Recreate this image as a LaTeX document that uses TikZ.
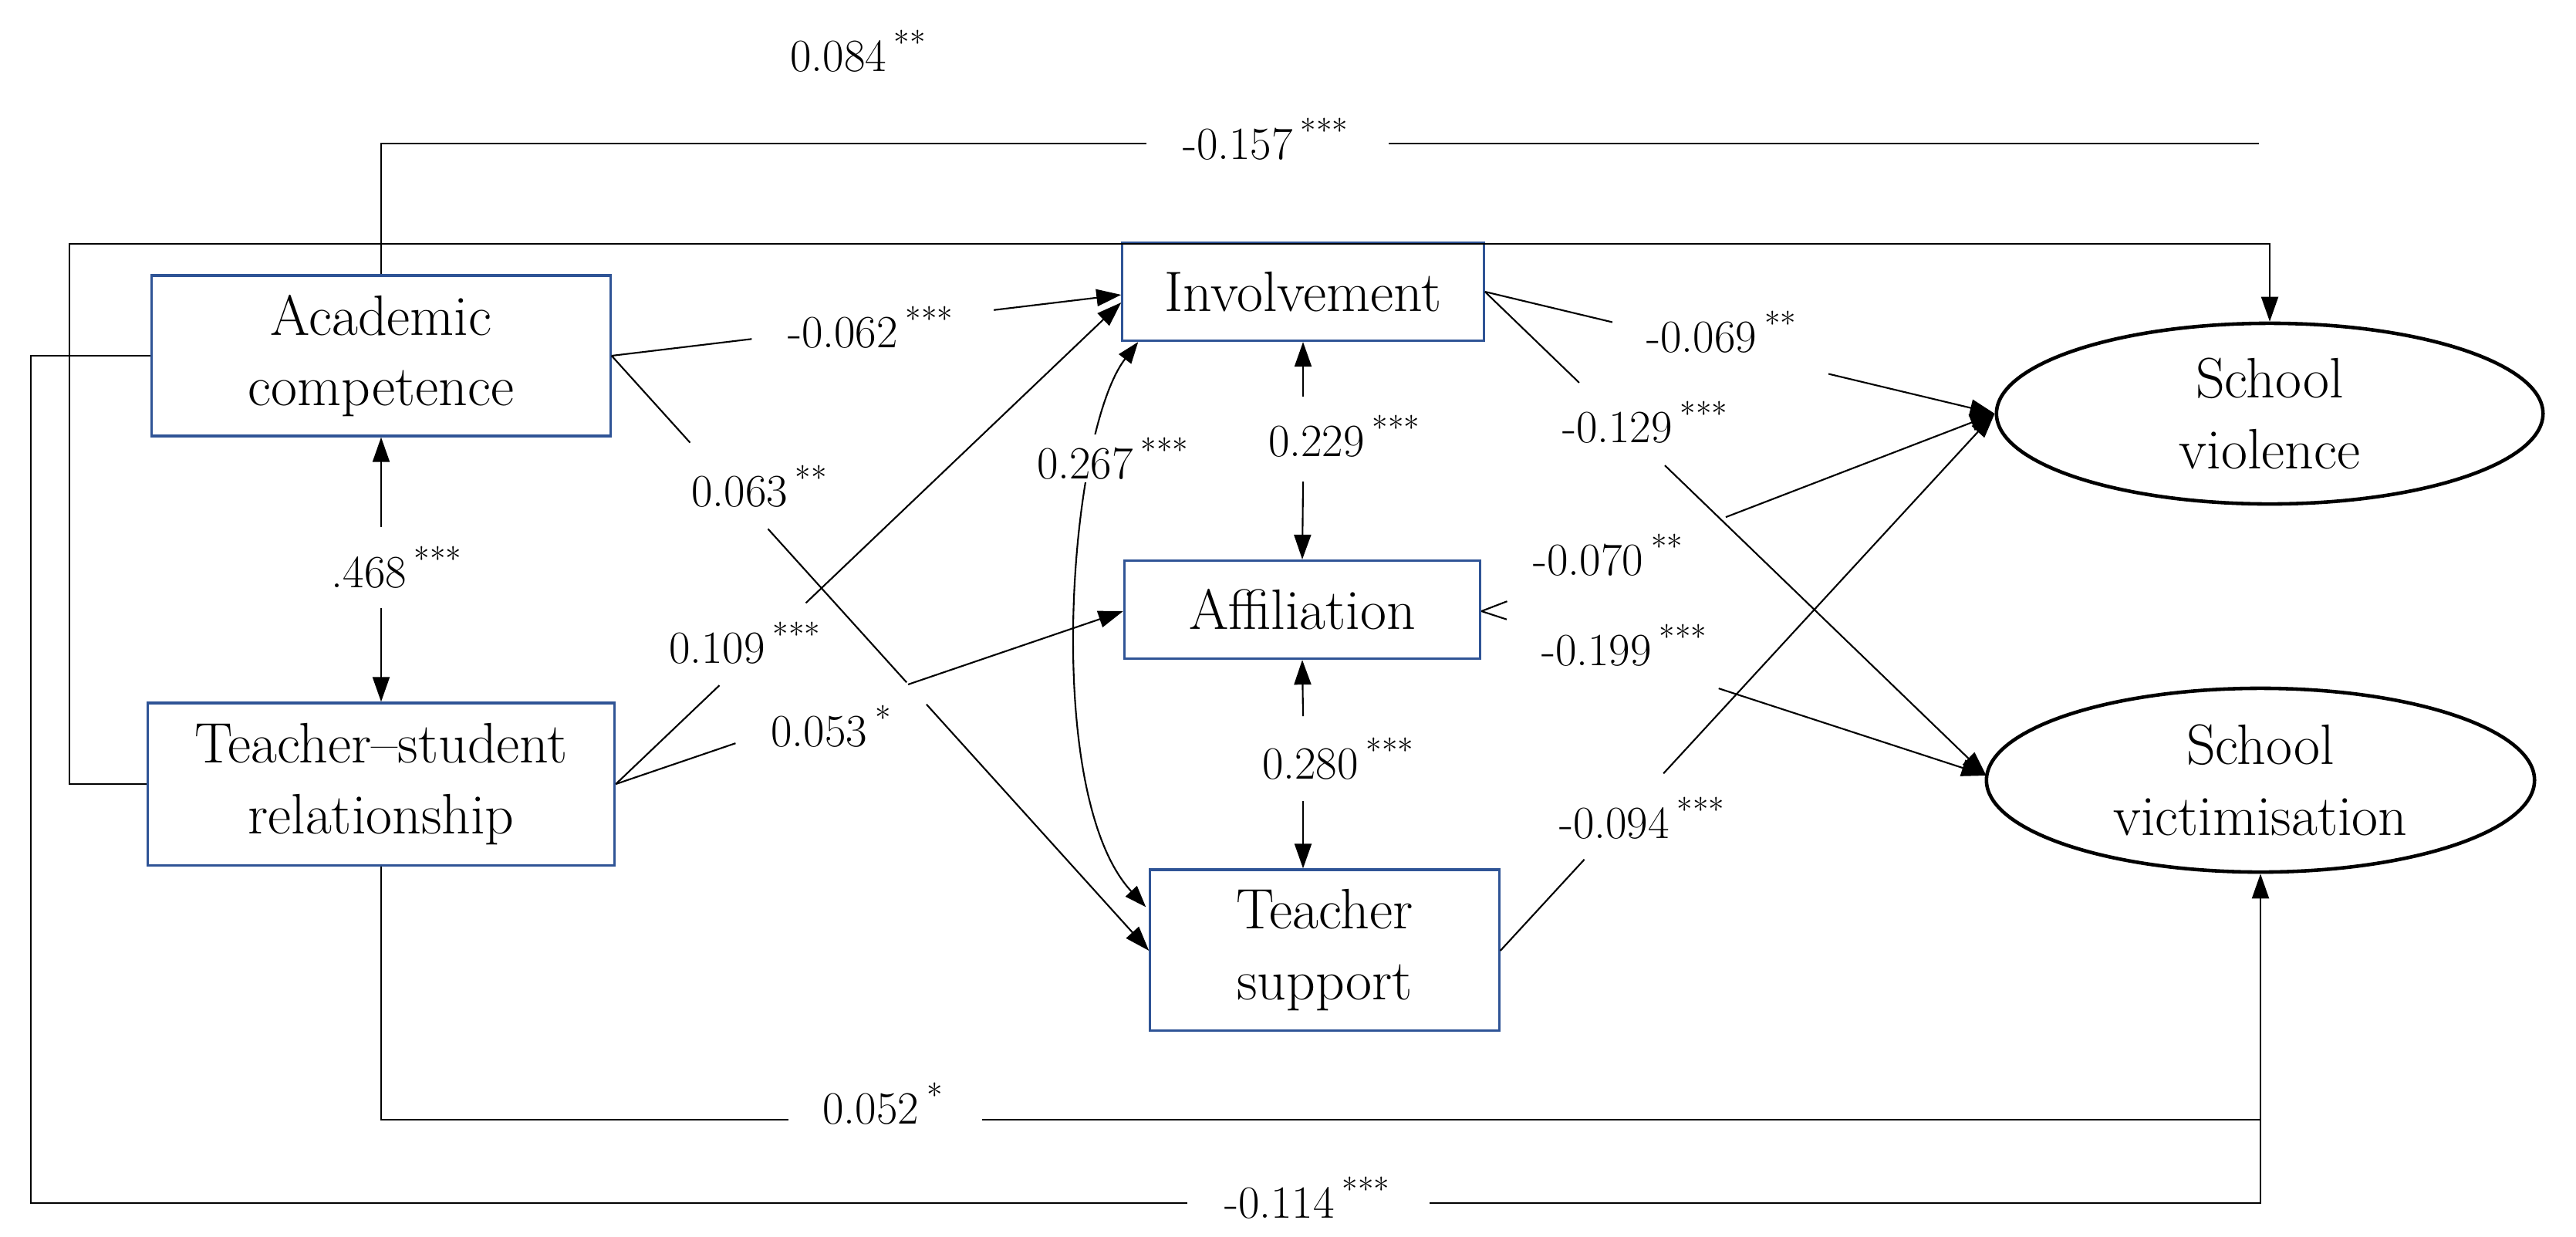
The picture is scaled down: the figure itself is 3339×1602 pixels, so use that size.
\documentclass[tikz,border=0pt]{standalone}
\usetikzlibrary{arrows.meta,calc,shapes.geometric}
\definecolor{boxblue}{RGB}{47,84,150}
\newcommand{\sig}[2]{#1\,\textsuperscript{#2}}
\begin{document}
\begin{tikzpicture}[x=0.01cm,y=-0.01cm,
  box/.style={draw=boxblue,line width=0.9pt,rectangle,align=center,inner sep=0pt,font=\fontsize{21}{26}\selectfont},
  ell/.style={draw,line width=1.3pt,ellipse,align=center,inner sep=0pt,font=\fontsize{21}{26}\selectfont},
  ln/.style={line width=0.6pt},
  tip/.style={ln,-{Triangle[length=0.32cm,width=0.22cm]}},
  rtip/.style={ln,{Triangle[length=0.32cm,width=0.22cm]}-},
  lab/.style={font=\fontsize{17}{20}\selectfont,inner sep=1pt}]
\useasboundingbox (0,0) rectangle (3339,1602);
% nodes
\node[box,minimum width=5.94cm,minimum height=2.08cm] (ac) at (494,461) {Academic\\competence};
\node[box,minimum width=6.05cm,minimum height=2.10cm] (ts) at (494,1016) {Teacher--student\\relationship};
\node[box,minimum width=4.68cm,minimum height=1.27cm] (inv) at (1689,378) {Involvement};
\node[box,minimum width=4.61cm,minimum height=1.27cm] (aff) at (1688,790) {Affiliation};
\node[box,minimum width=4.52cm,minimum height=2.08cm] (tsup) at (1717,1231) {Teacher\\support};
\node[ell,minimum width=7.08cm,minimum height=2.34cm] (sv) at (2942,536) {School\\violence};
\node[ell,minimum width=7.10cm,minimum height=2.38cm] (svi) at (2930,1011) {School\\victimisation};
% coordinates
\coordinate (t1) at (1486,186); \coordinate (t2) at (1800,186); \coordinate (t3) at (2928,186);
\coordinate (l2) at (90,316);
\coordinate (b1) at (40,1559); \coordinate (b2) at (1539,1559); \coordinate (b3) at (1853,1559);
\coordinate (m1) at (1022,1451); \coordinate (m2) at (1273,1451); \coordinate (m3) at (2930,1451);
\coordinate (invA) at ($(inv.west)+(0,4)$);
\coordinate (invB) at ($(inv.west)+(0,14)$);
\coordinate (affW) at ($(aff.west)+(0,2)$);
\coordinate (tsupW) at ($(tsup.west)+(0,1)$);
\coordinate (tsupNW) at ($(tsup.north west)+(-4,50)$);
\coordinate (invS) at ($(inv.south west)+(22,0)$);
\coordinate (acE) at (ac.east);
\coordinate (tsE) at (ts.east);
\coordinate (invE) at (inv.east);
\coordinate (affE) at ($(aff.east)+(0,2)$);
\coordinate (tsupE) at ($(tsup.east)+(0,1)$);
\coordinate (svW) at (sv.west);
\coordinate (sviW) at ($(svi.west)+(2,-6)$);
% long connectors
\draw[ln] (ac.north) |- (t1);
\draw[ln] (t2) -- (t3);
\draw[tip] (ts.west) -| (l2) -| (sv.north);
\draw[ln] (ac.west) -| (b1) -- (b2);
\draw[tip] (b3) -| (svi.south);
\draw[ln] (ts.south) |- (m1);
\draw[ln] (m2) -- (m3);
% .468
\draw[rtip] (ac.south) -- (494,683);
\draw[tip] (494,788) -- (ts.north);
% academic -> involvement
\draw[ln] (acE) -- ($(acE)!0.275!(invA)$);
\draw[tip] ($(acE)!0.75!(invA)$) -- (invA);
% academic -> teacher support
\draw[ln] (acE) -- ($(acE)!0.146!(tsupW)$);
\draw[ln] ($(acE)!0.291!(tsupW)$) -- ($(acE)!0.549!(tsupW)$);
\draw[tip] ($(acE)!0.586!(tsupW)$) -- (tsupW);
% ts -> involvement
\draw[ln] (tsE) -- ($(tsE)!0.205!(invB)$);
\draw[tip] ($(tsE)!0.376!(invB)$) -- (invB);
% ts -> affiliation
\draw[ln] (tsE) -- ($(tsE)!0.236!(affW)$);
\draw[tip] ($(tsE)!0.576!(affW)$) -- (affW);
% 0.267 curve
\draw[ln,{Triangle[length=0.28cm,width=0.2cm]}-{Triangle[length=0.28cm,width=0.2cm]}] (invS) .. controls (1385,560) and (1350,1030) .. (tsupNW);
% 0.229, 0.280
\draw[rtip] (inv.south) -- (1689,514);
\draw[tip] (1689,624) -- (aff.north);
\draw[rtip] (aff.south) -- (1689,928);
\draw[tip] (1689,1038) -- (tsup.north -| 1689,0);
% involvement -> violence / victimisation
\draw[ln] (invE) -- ($(invE)!0.25!(svW)$);
\draw[tip] ($(invE)!0.674!(svW)$) -- (svW);
\draw[ln] (invE) -- ($(invE)!0.188!(sviW)$);
\draw[tip] ($(invE)!0.359!(sviW)$) -- (sviW);
% affiliation -> violence / victimisation
\draw[ln] (affE) -- ($(affE)!0.05!(svW)$);
\draw[tip] ($(affE)!0.476!(svW)$) -- (svW);
\draw[ln] (affE) -- ($(affE)!0.05!(sviW)$);
\draw[tip] ($(affE)!0.47!(sviW)$) -- (sviW);
% teacher support -> violence
\draw[ln] (tsupE) -- ($(tsupE)!0.17!(svW)$);
\draw[tip] ($(tsupE)!0.33!(svW)$) -- (svW);
% labels
\node[lab] (l084) at (1113,66) {\sig{0.084}{**}};
\node[lab] (l157) at (1641,180) {\sig{-0.157}{***}};
\node[lab] (l062) at (1129,424) {\sig{-0.062}{***}};
\node[lab] (l063) at (985,630) {\sig{0.063}{**}};
\node[lab] (l468) at (515,735) {\sig{.468}{***}};
\node[lab] (l109) at (966,833) {\sig{0.109}{***}};
\node[lab] (l053) at (1078,941) {\sig{0.053}{*}};
\node[lab,fill=white] (l267) at (1443,594) {\sig{0.267}{***}};
\node[lab] (l229) at (1743,565) {\sig{0.229}{***}};
\node[lab] (l280) at (1735,983) {\sig{0.280}{***}};
\node[lab] (l069) at (2232,430) {\sig{-0.069}{**}};
\node[lab] (l129) at (2133,547) {\sig{-0.129}{***}};
\node[lab] (l070) at (2085,719) {\sig{-0.070}{**}};
\node[lab] (l199) at (2106,836) {\sig{-0.199}{***}};
\node[lab] (l094) at (2129,1060) {\sig{-0.094}{***}};
\node[lab] (l052) at (1145,1430) {\sig{0.052}{*}};
\node[lab] (l114) at (1695,1552) {\sig{-0.114}{***}};
\end{tikzpicture}
\end{document}
